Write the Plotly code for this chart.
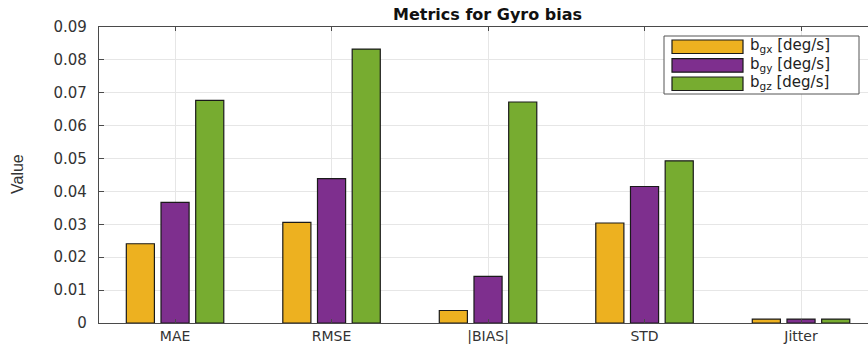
import plotly.graph_objects as go

# Error metrics of the gyro bias estimate, per axis
metrics = ["MAE", "RMSE", "|BIAS|", "STD", "Jitter"]
bgx = [0.0241, 0.0306, 0.0038, 0.0304, 0.0012]
bgy = [0.0367, 0.0439, 0.0142, 0.0415, 0.0012]
bgz = [0.0677, 0.0833, 0.0672, 0.0493, 0.0012]
series_names = ["b<sub>gx</sub> [deg/s]", "b<sub>gy</sub> [deg/s]", "b<sub>gz</sub> [deg/s]"]
series_colors = ["#EDB120", "#7E2F8E", "#77AC30"]
y_ticks = [0, 0.01, 0.02, 0.03, 0.04, 0.05, 0.06, 0.07, 0.08, 0.09]
y_tick_text = ["0", "0.01", "0.02", "0.03", "0.04", "0.05", "0.06", "0.07", "0.08", "0.09"]

W, H = 868, 344
ML, MR, MT, MB = 99, 0, 27, 21
PW, PH = W - ML - MR, H - MT - MB

FONT = "DejaVu Sans, Verdana, sans-serif"
LABEL_FONT = "Liberation Sans, Arial, sans-serif"
TXT = "#333333"
AX = "#4a4a4a"
GRID = "#e6e6e6"


def px(x):
    return (x - ML) / PW


def py(y):
    return (H - MB - y) / PH


fig = go.Figure()
for name, vals, col in zip(series_names, [bgx, bgy, bgz], series_colors):
    fig.add_trace(go.Bar(
        x=list(range(len(metrics))), y=vals, name=name,
        marker=dict(color=col, line=dict(color="#1a1a1a", width=1.2)),
        showlegend=False,
    ))

fig.update_layout(
    width=W, height=H,
    margin=dict(l=ML, r=MR, t=MT, b=MB, pad=0, autoexpand=False),
    paper_bgcolor="white", plot_bgcolor="white",
    barmode="group", bargap=0.335, bargroupgap=0.19,
    font=dict(family=FONT, size=15, color=TXT),
)

fig.update_xaxes(
    range=[-0.486, 4.428], automargin=False,
    tickmode="array", tickvals=list(range(len(metrics))), ticktext=metrics,
    ticks="inside", ticklen=4, tickcolor=AX, tickwidth=1,
    showline=True, linecolor=AX, linewidth=1.3, mirror="ticks",
    showgrid=True, gridcolor=GRID, gridwidth=1,
    tickfont=dict(family=FONT, size=14, color=TXT), ticklabelstandoff=0,
    zeroline=False,
)
fig.update_yaxes(
    range=[0, 0.09], automargin=False,
    tickmode="array", tickvals=y_ticks, ticktext=y_tick_text,
    ticks="inside", ticklen=5, tickcolor=AX, tickwidth=1,
    showline=True, linecolor=AX, linewidth=1.3,
    showgrid=True, gridcolor=GRID, gridwidth=1,
    tickfont=dict(family=FONT, size=15, color=TXT), ticklabelstandoff=8,
    zeroline=False,
)

# Title and y-axis label
fig.add_annotation(
    text="<b>Metrics for Gyro bias</b>", xref="paper", yref="paper",
    x=px(488), y=py(15), xanchor="center", yanchor="middle",
    showarrow=False, font=dict(family=FONT, size=16, color="#111111"),
)
fig.add_annotation(
    text="Value", xref="paper", yref="paper",
    x=px(17), y=py(174), xanchor="center", yanchor="middle", textangle=-90,
    showarrow=False, font=dict(family=LABEL_FONT, size=16, color=TXT),
)

# Legend box with wide swatches
fig.add_shape(type="rect", xref="paper", yref="paper",
              x0=px(664), x1=px(859), y0=py(94), y1=py(36),
              line=dict(color="#555555", width=1), fillcolor="white", layer="above")
row_tops = [40, 58.7, 77]
for top, name, col in zip(row_tops, series_names, series_colors):
    fig.add_shape(type="rect", xref="paper", yref="paper",
                  x0=px(672), x1=px(743), y0=py(top + 13.5), y1=py(top),
                  line=dict(color="#1a1a1a", width=1.2), fillcolor=col, layer="above")
    fig.add_annotation(
        text=name, xref="paper", yref="paper",
        x=px(748), y=py(top + 6), xanchor="left", yanchor="middle",
        showarrow=False, font=dict(family=FONT, size=15, color="#222222"),
    )

fig.write_html("out.html")
